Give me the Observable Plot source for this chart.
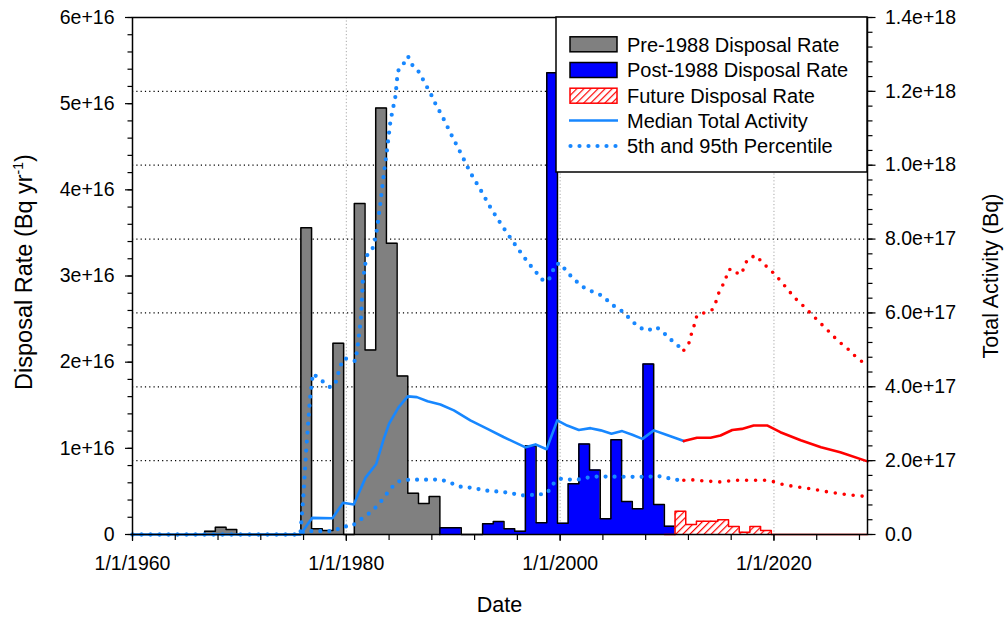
<!DOCTYPE html>
<html>
<head>
<meta charset="utf-8">
<script src="https://cdn.jsdelivr.net/npm/d3@7"></script>
<script src="https://cdn.jsdelivr.net/npm/@observablehq/plot@0.6"></script>
<style>
  body { margin: 0; background: #fff; }
  #wrap { position: relative; width: 1008px; height: 617px; }
</style>
</head>
<body>
<div id="wrap"></div>
<script>
// ---------- Disposal rates (Bq/yr), by fiscal year (Oct 1 – Sep 30) ----------
const preYears = [1967,1968,1969,1970,1971,1972,1973,1974,1975,1976,1977,1978,1979,1980,1981,1982,1983,1984,1985,1986,1987,1988];
const preRate  = [3.8e14,8.5e14,5.8e14,0,0,0,0,0,0,3.56e16,6.6e14,4.6e14,2.22e16,0,3.84e16,2.14e16,4.95e16,3.38e16,1.84e16,4.8e15,3.6e15,4.4e15];

const postYears = [1989,1990,1991,1992,1993,1994,1995,1996,1997,1998,1999,2000,2001,2002,2003,2004,2005,2006,2007,2008,2009,2010];
const postRate  = [7.8e14,7.8e14,0,0,1.24e15,1.5e15,6.6e14,3.8e14,1.03e16,1.36e15,5.36e16,1.31e15,5.88e15,1.05e16,7.5e15,1.82e15,1.1e16,3.83e15,2.98e15,1.98e16,3.48e15,9.6e14];

const futureYears = [2010,2011,2012,2013,2014,2015,2016,2017,2018,2019];
const futureRate  = [0,2.7e15,1.16e15,1.55e15,1.55e15,1.7e15,9.3e14,2.7e14,9.3e14,4.6e14];

// ---------- Total activity (Bq): [year, value] ----------
const histMedian = [[1960,0],[1975.7,0],[1976.8,4.5e16],[1978.7,4.4e16],[1979.7,8.6e16],[1980.7,8.1e16],[1981.8,1.54e17],[1982.8,1.91e17],[1983.5,2.59e17],[1984.0,3.0e17],[1984.9,3.45e17],[1985.75,3.74e17],[1986.6,3.72e17],[1987.6,3.61e17],[1988.8,3.52e17],[1990.06,3.36e17],[1991.6,3.09e17],[1993.2,2.86e17],[1994.7,2.64e17],[1996.76,2.36e17],[1997.7,2.44e17],[1998.73,2.31e17],[1999.73,3.09e17],[2000.66,2.95e17],[2001.75,2.83e17],[2002.84,2.88e17],[2003.8,2.82e17],[2004.8,2.73e17],[2005.8,2.8e17],[2006.75,2.7e17],[2007.7,2.59e17],[2008.77,2.82e17],[2009.86,2.71e17],[2011.57,2.53e17]];

const histP95 = [[1960,0],[1975.7,0],[1975.97,9.8e16],[1976.28,2.42e17],[1976.59,3.64e17],[1976.87,4.36e17],[1977.68,4.17e17],[1978.52,3.98e17],[1978.99,4.1e17],[1979.4,4.52e17],[1979.71,4.76e17],[1980.24,4.76e17],[1980.86,4.69e17],[1981.1,5.18e17],[1981.39,5.93e17],[1981.54,6.86e17],[1981.8,7.37e17],[1982.0,7.61e17],[1982.57,7.79e17],[1982.89,8.31e17],[1983.2,9.0e17],[1983.5,9.75e17],[1983.83,1.047e18],[1984.13,1.12e18],[1984.6,1.187e18],[1984.76,1.237e18],[1984.9,1.26e18],[1985.5,1.28e18],[1985.77,1.295e18],[1986.2,1.27e18],[1986.94,1.248e18],[1987.3,1.223e18],[1987.8,1.2e18],[1988.2,1.174e18],[1989.07,1.127e18],[1989.9,1.078e18],[1990.75,1.03e18],[1991.6,9.8e17],[1992.6,9.31e17],[1993.55,8.82e17],[1994.64,8.33e17],[1995.76,7.86e17],[1996.98,7.37e17],[1997.7,7.12e17],[1998.4,6.88e17],[1998.9,6.87e17],[1999.26,7.1e17],[1999.57,7.32e17],[2000.04,7.34e17],[2000.66,7.1e17],[2001.5,6.86e17],[2002.3,6.67e17],[2003.15,6.56e17],[2004.0,6.46e17],[2004.8,6.23e17],[2005.65,6.08e17],[2006.5,5.85e17],[2007.3,5.62e17],[2008.15,5.52e17],[2009.0,5.62e17],[2009.8,5.43e17],[2010.64,5.2e17],[2011.57,4.99e17]];

const histP5 = [[1960,0],[1975.7,0],[1976.1,9e15],[1978.9,9e15],[1979.6,2.2e16],[1980.5,2.2e16],[1981.2,3.8e16],[1982.0,5.4e16],[1982.7,7.2e16],[1983.4,9.5e16],[1984.0,1.19e17],[1984.7,1.42e17],[1985.5,1.48e17],[1988.8,1.49e17],[1989.6,1.42e17],[1990.5,1.3e17],[1991.3,1.28e17],[1992.2,1.24e17],[1993.0,1.19e17],[1994.7,1.15e17],[1996.5,1.06e17],[1998.0,1.08e17],[1998.8,1.12e17],[1999.26,1.35e17],[1999.97,1.51e17],[2000.8,1.49e17],[2001.6,1.48e17],[2002.5,1.54e17],[2003.3,1.57e17],[2008.0,1.56e17],[2009.2,1.58e17],[2010.9,1.48e17],[2011.57,1.47e17]];

const futMedian = [[2011.57,2.53e17],[2012.8,2.62e17],[2014.07,2.62e17],[2015.0,2.68e17],[2016.1,2.83e17],[2017.0,2.86e17],[2018.1,2.95e17],[2019.4,2.95e17],[2020.6,2.77e17],[2022.5,2.55e17],[2024.4,2.36e17],[2026.2,2.23e17],[2028.75,1.98e17]];

const futP95 = [[2011.57,4.99e17],[2012.1,5.21e17],[2012.3,5.46e17],[2012.57,5.69e17],[2012.8,5.94e17],[2013.35,5.99e17],[2014.2,6.08e17],[2014.6,6.32e17],[2014.85,6.55e17],[2015.1,6.7e17],[2015.5,6.89e17],[2015.6,7.12e17],[2016.0,7.2e17],[2016.8,7.03e17],[2017.2,7.2e17],[2017.5,7.45e17],[2018.3,7.56e17],[2019.0,7.34e17],[2019.75,7.14e17],[2020.46,6.92e17],[2021.2,6.67e17],[2021.9,6.42e17],[2022.74,6.19e17],[2023.6,5.94e17],[2024.36,5.72e17],[2025.2,5.48e17],[2026.0,5.24e17],[2026.86,5.04e17],[2027.7,4.8e17],[2028.6,4.6e17]];

const futP5 = [[2011.57,1.47e17],[2012.5,1.48e17],[2013.5,1.45e17],[2015.2,1.42e17],[2016.2,1.47e17],[2019.4,1.47e17],[2020.1,1.42e17],[2020.9,1.35e17],[2021.9,1.3e17],[2023.4,1.24e17],[2025.1,1.15e17],[2026.86,1.08e17],[2028.6,1.03e17]];

// ---------- Axis ticks and labels ----------
const xDomain = [1960, 2028.75];
const xTicks = [1960, 1980, 2000, 2020];
const xTickLabels = ["1/1/1960", "1/1/1980", "1/1/2000", "1/1/2020"];
const leftTicks = [0, 1e16, 2e16, 3e16, 4e16, 5e16, 6e16];
const leftTickLabels = ["0", "1e+16", "2e+16", "3e+16", "4e+16", "5e+16", "6e+16"];
const rightTicks = [0, 2e17, 4e17, 6e17, 8e17, 1e18, 1.2e18, 1.4e18];
const rightTickLabels = ["0.0", "2.0e+17", "4.0e+17", "6.0e+17", "8.0e+17", "1.0e+18", "1.2e+18", "1.4e+18"];
const legendLabels = ["Pre-1988 Disposal Rate", "Post-1988 Disposal Rate", "Future Disposal Rate", "Median Total Activity", "5th and 95th Percentile"];

// ---------- helpers ----------
const k = 6e16 / 1.4e18; // right-axis value -> left-axis units
const FONT = "'Liberation Sans', Arial, Helvetica, sans-serif";
function steps(years, vals, end) {
  const pts = [{x: years[0] - 0.25, y: 0}];
  years.forEach((yr, i) => pts.push({x: yr - 0.25, y: vals[i]}));
  const last = years[years.length - 1] + 0.75;
  pts.push({x: last, y: 0});
  if (end != null && end > last) pts.push({x: end, y: 0});
  return pts;
}
const rows = pairs => pairs.map(([x, v]) => ({x, y: v * k}));

const preSteps = steps(preYears, preRate);
const postSteps = steps(postYears, postRate);
const futSteps = steps(futureYears, futureRate, xDomain[1]);

const BLUE = "#1787ff";
const dotted = {strokeDasharray: "0 9", strokeLinecap: "round", strokeWidth: 4.2};

const xMinor = d3.range(1960, 2029, 4);
const leftMinor = d3.range(0, 31).map(i => i * 2e15);
const rightMinor = d3.range(0, 36).map(i => i * 4e16 * k);
const rightTickPos = rightTicks.map(v => v * k);

const chart = Plot.plot({
  width: 1008,
  height: 617,
  marginLeft: 132,
  marginRight: 141,
  marginTop: 17,
  marginBottom: 83,
  style: {fontFamily: FONT, fontSize: "19.5px", background: "white", color: "black"},
  x: {domain: xDomain},
  y: {domain: [0, 6e16]},
  marks: [
    Plot.gridY(rightTickPos.slice(1, -1), {stroke: "black", strokeOpacity: 1, strokeWidth: 1.2, strokeDasharray: "1.2 3.1"}),
    Plot.gridX(xTicks.slice(1), {stroke: "#a8a8a8", strokeOpacity: 1, strokeWidth: 1, strokeDasharray: "1.2 2.2"}),
    // bars as step areas
    Plot.areaY(preSteps, {x: "x", y: "y", curve: "step-after", fill: "#808080"}),
    Plot.lineY(preSteps, {x: "x", y: "y", curve: "step-after", stroke: "black", strokeWidth: 1.5}),
    Plot.areaY(postSteps, {x: "x", y: "y", curve: "step-after", fill: "#0000ff"}),
    Plot.lineY(postSteps, {x: "x", y: "y", curve: "step-after", stroke: "black", strokeWidth: 1.5}),
    Plot.areaY(futSteps, {x: "x", y: "y", curve: "step-after", fill: "url(#hatchRed)"}),
    Plot.lineY(futSteps, {x: "x", y: "y", curve: "step-after", stroke: "#ff0000", strokeWidth: 1.5}),
    // total activity lines
    Plot.line(rows(histP95), {x: "x", y: "y", stroke: BLUE, ...dotted}),
    Plot.line(rows(histP5), {x: "x", y: "y", stroke: BLUE, ...dotted}),
    Plot.line(rows(histMedian), {x: "x", y: "y", stroke: BLUE, strokeWidth: 2.6}),
    Plot.line(rows(futP95), {x: "x", y: "y", stroke: "#ff0000", ...dotted, strokeWidth: 3.6}),
    Plot.line(rows(futP5), {x: "x", y: "y", stroke: "#ff0000", ...dotted, strokeWidth: 3.6}),
    Plot.line(rows(futMedian), {x: "x", y: "y", stroke: "#ff0000", strokeWidth: 2.6}),
    Plot.frame({stroke: "black", strokeWidth: 1.5}),
    // axes
    Plot.axisX(xMinor, {tickSize: 6, tickFormat: () => "", label: null, strokeWidth: 1.2}),
    Plot.axisX(xTicks, {tickSize: 7, tickPadding: 15, tickFormat: d => xTickLabels[xTicks.indexOf(d)], label: null, strokeWidth: 1.2}),
    Plot.axisY(leftMinor, {anchor: "left", tickSize: 4.5, tickFormat: () => "", label: null, strokeWidth: 1.2}),
    Plot.axisY(leftTicks, {anchor: "left", tickSize: 7, tickPadding: 11, tickFormat: d => leftTickLabels[leftTicks.indexOf(d)], label: null, strokeWidth: 1.2}),
    Plot.axisY(rightMinor, {anchor: "right", tickSize: 4.5, tickFormat: () => "", label: null, strokeWidth: 1.2}),
    Plot.axisY(rightTickPos, {anchor: "right", tickSize: 7.5, tickPadding: 10, tickFormat: d => rightTickLabels[rightTickPos.indexOf(d)], label: null, strokeWidth: 1.2})
  ]
});

document.getElementById("wrap").appendChild(chart);

// ---------- hatch pattern, legend, axis titles ----------
const svg = d3.select(chart);
const defs = svg.insert("defs", ":first-child");
const pat = defs.append("pattern").attr("id", "hatchRed").attr("patternUnits", "userSpaceOnUse")
  .attr("width", 5).attr("height", 5).attr("patternTransform", "rotate(45)");
pat.append("rect").attr("width", 5).attr("height", 5).attr("fill", "white");
pat.append("line").attr("x1", 0.6).attr("y1", 0).attr("x2", 0.6).attr("y2", 5).attr("stroke", "#ff0000").attr("stroke-width", 1.2);

const lg = svg.append("g").attr("font-family", FONT).attr("font-size", 20).attr("text-anchor", "start");
lg.append("rect").attr("x", 556).attr("y", 17).attr("width", 311).attr("height", 155)
  .attr("fill", "white").attr("stroke", "black").attr("stroke-width", 1.5);
const rowY = [44.3, 70, 95.7, 120.5, 146];
const swX = 570, swW = 47, swH = 15;
lg.append("rect").attr("x", swX).attr("y", rowY[0] - swH / 2).attr("width", swW).attr("height", swH).attr("fill", "#808080").attr("stroke", "black").attr("stroke-width", 1.5);
lg.append("rect").attr("x", swX).attr("y", rowY[1] - swH / 2).attr("width", swW).attr("height", swH).attr("fill", "#0000ff").attr("stroke", "black").attr("stroke-width", 1.5);
lg.append("rect").attr("x", swX).attr("y", rowY[2] - swH / 2).attr("width", swW).attr("height", swH).attr("fill", "url(#hatchRed)").attr("stroke", "#ff0000").attr("stroke-width", 1.5);
lg.append("line").attr("x1", swX - 1).attr("x2", swX + swW + 1).attr("y1", rowY[3]).attr("y2", rowY[3]).attr("stroke", BLUE).attr("stroke-width", 2.6);
lg.append("line").attr("x1", swX + 0.5).attr("x2", swX + swW + 1).attr("y1", rowY[4]).attr("y2", rowY[4]).attr("stroke", BLUE)
  .attr("stroke-width", 4.2).attr("stroke-dasharray", "0 9").attr("stroke-linecap", "round");
legendLabels.forEach((t, i) => {
  lg.append("text").attr("x", 627).attr("y", rowY[i]).attr("dy", "0.36em").attr("fill", "black").attr("text-anchor", "start").text(t);
});

const titles = svg.append("g").attr("font-family", FONT).attr("fill", "black").attr("text-anchor", "middle");
const lt = titles.append("text").attr("font-size", 23.5).attr("transform", "translate(32,272) rotate(-90)");
lt.append("tspan").text("Disposal Rate (Bq yr");
lt.append("tspan").attr("font-size", 14).attr("dy", -9).text("-1");
lt.append("tspan").attr("dy", 9).text(")");
titles.append("text").attr("font-size", 21.5).attr("transform", "translate(998,276) rotate(-90)").text("Total Activity (Bq)");
titles.append("text").attr("font-size", 21.5).attr("x", 499.5).attr("y", 612).text("Date");
</script>
</body>
</html>
